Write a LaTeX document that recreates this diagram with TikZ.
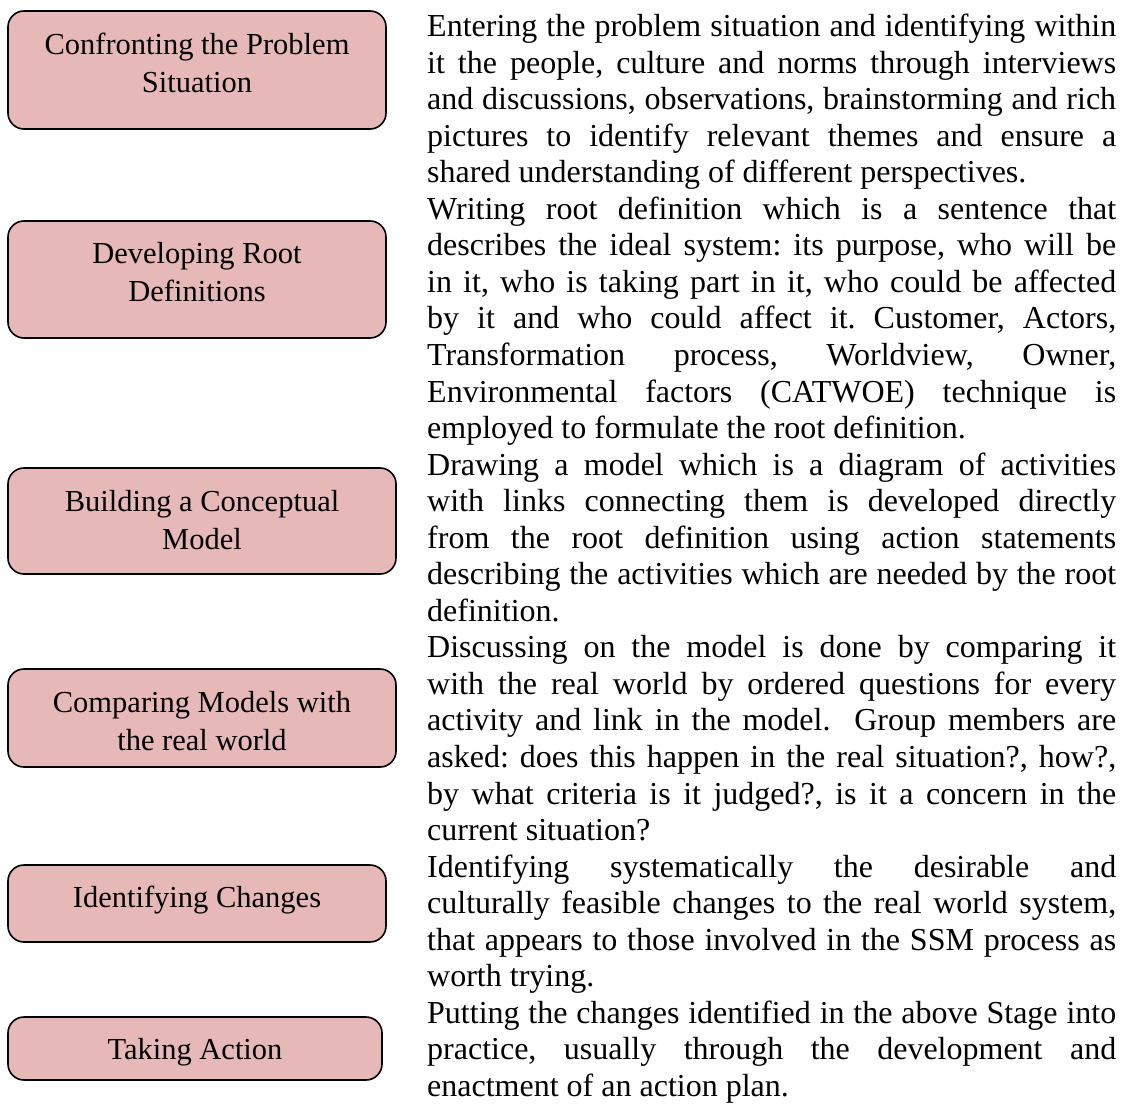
\documentclass[tikz,border=0pt]{standalone}
\usepackage{fontspec}
\setmainfont{Liberation Serif}
\definecolor{boxpink}{HTML}{E6B8B7}
\frenchspacing
\hyphenpenalty=10000
\tolerance=10000
\hbadness=10000
\begin{document}
\begin{tikzpicture}[x=1pt,y=-1pt,
  stagebox/.style={draw=black, line width=1.6pt, fill=boxpink, rounded corners=16pt, inner sep=0pt},
  stagelabel/.style={anchor=base, inner sep=0pt, text width=380pt, align=flush center, font=\fontsize{30.5}{38}\selectfont},
  desc/.style={anchor=base west, inner sep=0pt, text width=689pt, align=justify, font=\fontsize{32}{36.55}\selectfont}]
\path[use as bounding box] (0,0) rectangle (1126,1107);

% stage boxes
\node[stagebox, minimum width=378pt, minimum height=118pt] (s1) at (197,70) {};
\node[stagebox, minimum width=378pt, minimum height=117pt] (s2) at (197,279.5) {};
\node[stagebox, minimum width=388pt, minimum height=106pt] (s3) at (202,521) {};
\node[stagebox, minimum width=388pt, minimum height=98pt] (s4) at (202,718) {};
\node[stagebox, minimum width=378pt, minimum height=77pt] (s5) at (197,903.5) {};
\node[stagebox, minimum width=374pt, minimum height=63pt] (s6) at (195,1048.5) {};

\node[stagelabel] (l1) at (197,55) {Confronting the Problem\\Situation};
\node[stagelabel] (l2) at (197,263) {Developing Root\\Definitions};
\node[stagelabel] (l3) at (202,511) {Building a Conceptual\\Model};
\node[stagelabel] (l4) at (202,712) {Comparing Models with\\the real world};
\node[stagelabel] (l5) at (197,907) {Identifying Changes};
\node[stagelabel] (l6) at (195,1059) {Taking Action};

% descriptions
\node[desc] (d1) at (427,36.5) {Entering the problem situation and identifying within\linebreak
it the people, culture and norms through interviews\linebreak
and discussions, observations, brainstorming and rich\linebreak
pictures to identify relevant themes and ensure a\linebreak
shared understanding of different perspectives.};

\node[desc] (d2) at (427,219.25) {Writing root definition which is a sentence that\linebreak
describes the ideal system: its purpose, who will be\linebreak
in it, who is taking part in it, who could be affected\linebreak
by it and who could affect it. Customer, Actors,\linebreak
Transformation process, Worldview, Owner,\linebreak
Environmental factors (CATWOE) technique is\linebreak
employed to formulate the root definition.};

\node[desc] (d3) at (427,475.1) {Drawing a model which is a diagram of activities\linebreak
with links connecting them is developed directly\linebreak
from the root definition using action statements\linebreak
describing the activities which are needed by the root\linebreak
definition.};

\node[desc] (d4) at (427,657.85) {Discussing on the model is done by comparing it\linebreak
with the real world by ordered questions for every\linebreak
activity and link in the model.\ \ Group members are\linebreak
asked: does this happen in the real situation?, how?,\linebreak
by what criteria is it judged?, is it a concern in the\linebreak
current situation?};

\node[desc] (d5) at (427,877.15) {Identifying systematically the desirable and\linebreak
culturally feasible changes to the real world system,\linebreak
that appears to those involved in the SSM process as\linebreak
worth trying.};

\node[desc] (d6) at (427,1023.35) {Putting the changes identified in the above Stage into\linebreak
practice, usually through the development and\linebreak
enactment of an action plan.};
\end{tikzpicture}
\end{document}
